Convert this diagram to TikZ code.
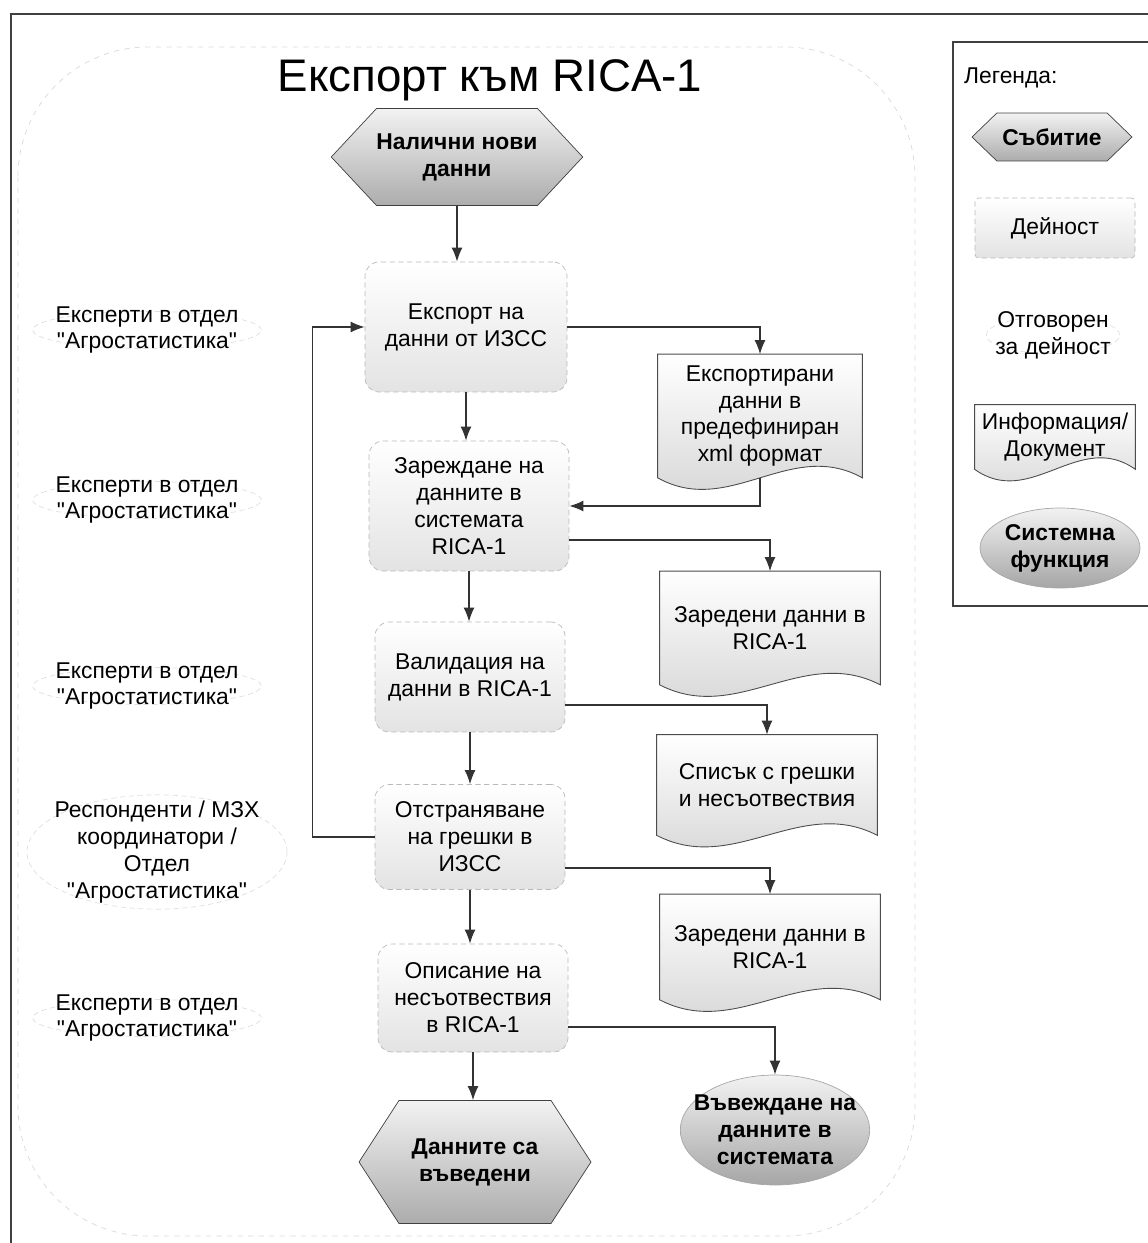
\documentclass[tikz,border=0pt]{standalone}
\usepackage{fontspec}
\setmainfont{Liberation Sans}[Ligatures=TeXOff]
\setsansfont{Liberation Sans}[Ligatures=TeXOff]
\usepackage{tikz}
\usetikzlibrary{arrows.meta,shapes.geometric,shapes.symbols,calc,backgrounds}
\tikzset{every picture/.style={/utils/exec={\sffamily}}}
\newcommand{\agro}{"Агростатистика"}
\tikzset{
  txt/.style={font=\fontsize{13}{15.3}\selectfont, align=center},
  eventbox/.style={txt, signal, signal to=west and east, draw=black!75, top color=gray!10, bottom color=gray!65, font=\fontsize{13}{15.3}\selectfont\bfseries, inner sep=0pt},
  actbox/.style={txt, rectangle, rounded corners=8pt, draw=gray!55, densely dashed, top color=white, bottom color=gray!22, inner sep=0pt},
  docbox/.style={txt, rectangle, inner sep=0pt},
  respbox/.style={txt, ellipse, draw=gray!25, densely dashed, inner sep=-6pt},
  funcbox/.style={txt, ellipse, draw=gray!70, top color=gray!10, bottom color=gray!70, font=\fontsize{13}{15.3}\selectfont\bfseries, inner sep=-8pt},
  flow/.style={line width=0.8pt, black!80, -{Latex[length=2.8mm,width=2.2mm]}},
  docline/.style={draw=black!70, line width=0.5pt, top color=white, bottom color=gray!35}
}

\begin{document}
\begin{tikzpicture}[x=0.02cm, y=-0.02cm]
\useasboundingbox (0,0) rectangle (1147,1243);

%Frames
\draw[black!75, line width=1pt] (11,1260) -- (11,14) -- (1160,14);
\draw[gray!30, dashed, rounded corners=2.6cm] (18,47) rectangle (915,1236);
\draw[black!75, line width=1.5pt] (1160,42) -- (953,42) -- (953,606) -- (1160,606);

% Title
\node[font=\fontsize{26}{31}\selectfont] (title) at (490,80) {Експорт към RICA-1};

% Process
\node[eventbox, signal pointer angle=94, minimum width=4.5cm, minimum height=1.94cm] (ev1) at (457,157) {Налични нови\\данни};
\node[actbox, minimum width=4.04cm, minimum height=2.6cm] (a1) at (466,327) {Експорт на\\данни от ИЗСС};
\node[actbox, minimum width=4.0cm, minimum height=2.6cm] (a2) at (469,506) {Зареждане на\\данните в\\системата\\RICA-1};
\node[actbox, minimum width=3.8cm, minimum height=2.2cm] (a3) at (470,677) {Валидация на\\данни в RICA-1};
\node[actbox, minimum width=3.8cm, minimum height=2.1cm] (a4) at (470,837) {Отстраняване\\на грешки в\\ИЗСС};
\node[actbox, minimum width=3.8cm, minimum height=2.16cm] (a5) at (473,998) {Описание на\\несъотвествия\\в RICA-1};
\node[eventbox, signal pointer angle=114, minimum width=4.64cm, minimum height=2.46cm] (ev2) at (475,1162) {Данните са\\въведени};

% Documents
\node[docbox, minimum width=4.08cm, minimum height=2.46cm] (d1) at (760,416) {Експортирани\\данни в\\предефиниран\\xml формат};
\node[docbox, minimum width=4.4cm, minimum height=2.26cm] (d2) at (770,628) {Заредени данни в\\RICA-1};
\node[docbox, minimum width=4.4cm, minimum height=2.0cm] (d3) at (767,785) {Списък с грешки\\и несъотвествия};
\node[docbox, minimum width=4.4cm, minimum height=2.1cm] (d4) at (770,947) {Заредени данни в\\RICA-1};
\node[funcbox, minimum width=3.64cm, minimum height=2.2cm] (f1) at (775,1130) {Въвеждане на\\данните в\\системата};

% Responsible
\node[respbox] (r1) at (147,330) {Експерти в отдел\\\agro};
\node[respbox] (r2) at (147,500) {Експерти в отдел\\\agro};
\node[respbox] (r3) at (147,686) {Експерти в отдел\\\agro};
\node[respbox] (r4) at (157,852) {Респонденти / МЗХ\\координатори /\\Отдел\\\agro};
\node[respbox] (r5) at (147,1018) {Експерти в отдел\\\agro};

% Legend
\node[txt, anchor=west] (leg) at (958,78) {Легенда:};
\node[eventbox, signal pointer angle=88, minimum width=3.2cm, minimum height=0.96cm] (lev) at (1052,137) {Събитие};
\node[actbox, rounded corners=2pt, minimum width=3.2cm, minimum height=1.2cm] (lact) at (1055,228) {Дейност};
\node[respbox] (lresp) at (1053,335) {Отговорен\\за дейност};
\node[docbox, minimum width=3.2cm, minimum height=1.28cm] (ldoc) at (1055,437) {Информация/\\Документ};
\node[funcbox, minimum width=3.2cm, minimum height=1.6cm] (lfun) at (1060,548) {Системна\\функция};

% Document outlines
\begin{scope}[on background layer]
\foreach \n in {d1,d2,d3,d4,ldoc}
  \path[docline] (\n.north west) -- (\n.north east) -- (\n.south east)
    .. controls ($(\n.south east)!0.35!(\n.south west)+(0,-40)$) and ($(\n.south east)!0.65!(\n.south west)+(0,40)$) .. (\n.south west) -- cycle;
\end{scope}

% Connectors
\draw[flow] (ev1.south) -- (ev1.south |- a1.north);
\draw[flow] (a1.south) -- (a1.south |- a2.north);
\draw[flow] (a2.south) -- (a2.south |- a3.north);
\draw[flow] (a3.south) -- (a3.south |- a4.north);
\draw[flow] (a4.south) -- (a4.south |- a5.north);
\draw[flow] (a5.south) -- (a5.south |- ev2.north);
\draw[flow] (a1.east) -| (d1.north);
\draw[flow] (d1.south) |- (a2.east);
\draw[flow] ([yshift=-0.68cm]a2.east) -| (d2.north);
\draw[flow] ([yshift=-0.56cm]a3.east) -| (d3.north);
\draw[flow] ([yshift=-0.62cm]a4.east) -| (d4.north);
\draw[flow] ([yshift=-0.58cm]a5.east) -| (f1.north);
\draw[flow] (a4.west) -- ++(-62,0) |- (a1.west);

\end{tikzpicture}
\end{document}
